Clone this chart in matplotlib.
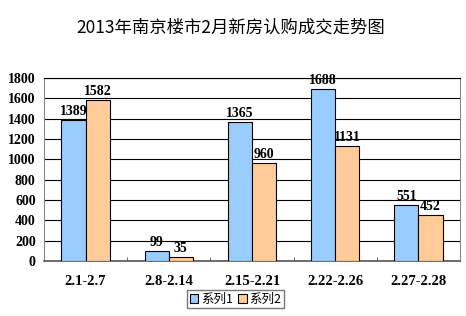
import numpy as np
import matplotlib
matplotlib.use('Agg')
import matplotlib.pyplot as plt

plt.rcParams['font.family'] = ['Liberation Serif', 'Noto Sans CJK SC', 'DejaVu Sans']

# 數據
categories = ['2.1-2.7', '2.8-2.14', '2.15-2.21', '2.22-2.26', '2.27-2.28']
series1 = [1389, 99, 1365, 1688, 551]
series2 = [1582, 35, 960, 1131, 452]
series_names = ['系列1', '系列2']
yticks = [0, 200, 400, 600, 800, 1000, 1200, 1400, 1600, 1800]

fig = plt.figure(figsize=(4.66, 3.16), dpi=100)
ax = fig.add_axes([44/466, 1 - 261/316, 416/466, 183/316])

x = np.arange(len(categories))
w = 0.29
b1 = ax.bar(x - w/2, series1, w, color='#99CCFF', edgecolor='black', linewidth=0.8, zorder=3, label=series_names[0])
b2 = ax.bar(x + w/2, series2, w, color='#FFCC99', edgecolor='black', linewidth=0.8, zorder=3, label=series_names[1])

for rect, v in zip(b1, series1):
    ax.text(rect.get_x() + rect.get_width()/2, v + 20, str(v), ha='center', va='bottom',
            fontsize=10, fontweight='bold')
for rect, v in zip(b2, series2):
    ax.text(rect.get_x() + rect.get_width()/2, v + 20, str(v), ha='center', va='bottom',
            fontsize=10, fontweight='bold')

ax.set_xlim(-0.5, len(categories) - 0.5)
ax.set_ylim(0, 1800)
ax.set_yticks(yticks)
ax.set_yticklabels([str(t) for t in yticks], fontsize=10, fontweight='bold')
ax.yaxis.grid(True, color='black', linewidth=0.8, zorder=0)
ax.set_axisbelow(True)

ax.set_xticks(x)
ax.set_xticklabels(categories, fontsize=10.5, fontweight='bold')
ax.tick_params(axis='x', length=0, pad=10)
ax.tick_params(axis='y', length=0, pad=6)
# 類別之間的小刻度
ax.set_xticks(np.arange(len(categories) + 1) - 0.5, minor=True)
ax.tick_params(axis='x', which='minor', direction='in', length=3, color='#555555')

for s in ['left', 'right']:
    ax.spines[s].set_color('#888888')
ax.spines['bottom'].set_color('#555555')
ax.spines['bottom'].set_linewidth(1.2)
ax.spines['top'].set_color('black')

fig.suptitle('2013年南京楼市2月新房认购成交走势图', x=0.495, y=0.94, fontsize=12.5,
             family=['Noto Sans CJK SC', 'DejaVu Sans'])

leg = fig.legend(loc='center', bbox_to_anchor=(0.505, 1 - 299/316), ncol=2,
                 handlelength=0.7, handleheight=0.7, handletextpad=0.2, columnspacing=0.4,
                 borderpad=0.2, fancybox=False, edgecolor='#555555',
                 prop={'family': ['Noto Sans CJK SC', 'DejaVu Sans'], 'size': 9})

fig.savefig('out.png', dpi=100)
